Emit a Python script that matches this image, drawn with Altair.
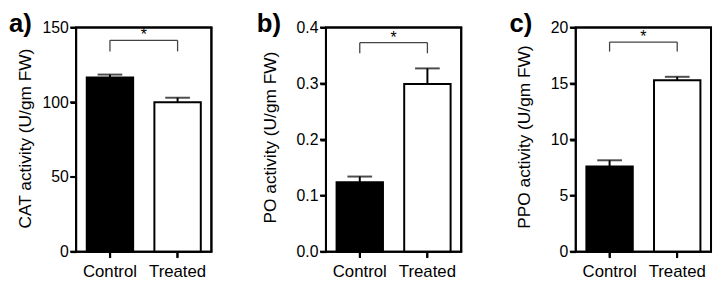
import altair as alt
import pandas as pd

# ---------------- data ----------------
groups = ["Control", "Treated"]
fills = ["black", "white"]

cat_means = [116.5, 100.0]
cat_err_tops = [118.5, 103.0]
po_means = [0.124, 0.299]
po_err_tops = [0.134, 0.327]
ppo_means = [7.6, 15.3]
ppo_err_tops = [8.15, 15.6]

titles = ["CAT activity (U/gm FW)", "PO activity (U/gm FW)", "PPO activity (U/gm FW)"]
panel_letters = ["a)", "b)", "c)"]
y_domains = [[0, 150], [0, 0.4], [0, 20]]
y_ticks = [[0, 50, 100, 150], [0.0, 0.1, 0.2, 0.3, 0.4], [0, 5, 10, 15, 20]]
y_formats = ["d", ".1f", "d"]
bracket_tops = [141.4, 0.373, 18.7]
bracket_bottoms = [134.0, 0.354, 17.85]
stars = ["*", "*", "*"]

widths = [137, 137, 137]
H = 227
FONT = "Liberation Sans"

# title placement (pixels relative to plot)
title_x = [-46, -51, -47]
title_y = [112, 111, 110.5]
letter_x = [-68, -70, -67]


def panel(i, means, err_tops):
    W = widths[i]
    df = pd.DataFrame({"group": groups, "mean": means, "err": err_tops, "fill": fills})
    br = pd.DataFrame({"start": [groups[0]], "end": [groups[1]], "top": [bracket_tops[i]]})
    legs = pd.DataFrame({"group": groups, "top": [bracket_tops[i]] * 2,
                         "bottom": [bracket_bottoms[i]] * 2})
    star = pd.DataFrame({"label": [stars[i]], "top": [bracket_tops[i]]})
    letter = pd.DataFrame({"label": [panel_letters[i]]})
    ytk = pd.DataFrame({"v": y_ticks[i]})
    lo, hi = y_domains[i]
    edges = pd.DataFrame({"lo": [lo], "hi": [hi]})

    xscale = alt.Scale(domain=groups, paddingInner=0.314, paddingOuter=0.157)
    yscale = alt.Scale(domain=y_domains[i], nice=False, zero=True)
    xenc = alt.X("group:N", scale=xscale,
                 axis=alt.Axis(title=None, labelAngle=0, labelFontSize=17,
                               labelPadding=6, ticks=True, tickSize=6, tickWidth=2,
                               tickColor="black", domain=False, labelColor="black",
                               labelFont=FONT, zindex=1))
    yenc = alt.Y("mean:Q", scale=yscale,
                 axis=alt.Axis(title=titles[i], values=y_ticks[i], format=y_formats[i],
                               grid=False, domain=False, ticks=True, tickSize=6, tickWidth=2,
                               tickColor="black", labelFontSize=16, labelPadding=2,
                               labelColor="black", labelFont=FONT, zindex=1,
                               titleFont=FONT, titleFontSize=17.5, titleFontWeight="normal",
                               titleColor="black", titleX=title_x[i], titleY=title_y[i],
                               titleBaseline="alphabetic", titleAlign="center"))

    bars = alt.Chart(df).mark_bar(stroke="black", strokeWidth=2).encode(
        x=xenc, y=yenc,
        fill=alt.Fill("fill:N", scale=None, legend=None),
    )
    err = alt.Chart(df).mark_rule(color="black", strokeWidth=2).encode(
        x=alt.X("group:N", scale=xscale), y=alt.Y("mean:Q", scale=yscale), y2="err:Q")
    caps = alt.Chart(df).mark_tick(color="black", thickness=2, size=25, orient="horizontal").encode(
        x=alt.X("group:N", scale=xscale), y=alt.Y("err:Q", scale=yscale))
    bracket = alt.Chart(br).mark_rule(color="#444444", strokeWidth=1.3).encode(
        x=alt.X("start:N", scale=xscale), x2="end:N", y=alt.Y("top:Q", scale=yscale))
    bracket_legs = alt.Chart(legs).mark_rule(color="#444444", strokeWidth=1.3).encode(
        x=alt.X("group:N", scale=xscale), y=alt.Y("top:Q", scale=yscale), y2="bottom:Q")
    star_t = alt.Chart(star).mark_text(font=FONT, fontSize=16, color="black",
                                       baseline="alphabetic", dy=0).encode(
        x=alt.value(W / 2), y=alt.Y("top:Q", scale=yscale), text="label:N")
    letter_t = alt.Chart(letter).mark_text(font=FONT, fontSize=26, fontWeight="bold",
                                           color="black", align="left",
                                           baseline="alphabetic").encode(
        x=alt.value(letter_x[i]), y=alt.value(5), text="label:N")

    # frame edges positioned through the y scale
    e = alt.Chart(edges)
    top_e = e.mark_rule(color="black", strokeWidth=2, clip=False).encode(
        y=alt.Y("hi:Q", scale=yscale), x=alt.value(-1), x2=alt.value(W + 1))
    bot_e = e.mark_rule(color="black", strokeWidth=2, clip=False).encode(
        y=alt.Y("lo:Q", scale=yscale), x=alt.value(-1), x2=alt.value(W + 1))
    left_e = e.mark_rule(color="black", strokeWidth=2, clip=False).encode(
        y=alt.Y("lo:Q", scale=yscale), y2="hi:Q", x=alt.value(0))
    right_e = e.mark_rule(color="black", strokeWidth=2, clip=False).encode(
        y=alt.Y("lo:Q", scale=yscale), y2="hi:Q", x=alt.value(W))
    # tick marks positioned through the scales
    ytick_m = alt.Chart(ytk).mark_rule(color="black", strokeWidth=2, clip=False).encode(
        y=alt.Y("v:Q", scale=yscale), x=alt.value(-6), x2=alt.value(0))
    xtick_m = alt.Chart(df).mark_rule(color="black", strokeWidth=2, clip=False).encode(
        x=alt.X("group:N", scale=xscale), y=alt.value(H), y2=alt.value(H + 6))

    return alt.layer(bars, err, caps, bracket, bracket_legs, star_t, letter_t,
                     top_e, bot_e, left_e, right_e, ytick_m, xtick_m).properties(
        width=W, height=H)


pa = panel(0, cat_means, cat_err_tops)
pb = panel(1, po_means, po_err_tops)
pc = panel(2, ppo_means, ppo_err_tops)

chart = alt.HConcatChart(hconcat=[pa, pb, pc], spacing=116, bounds="flush").properties(
    padding={"left": 0, "top": 1, "right": 0, "bottom": 0}
).configure(background="white").configure_view(stroke="black", strokeWidth=2)

chart.save("out.html", embed_options={"renderer": "svg", "actions": False})
